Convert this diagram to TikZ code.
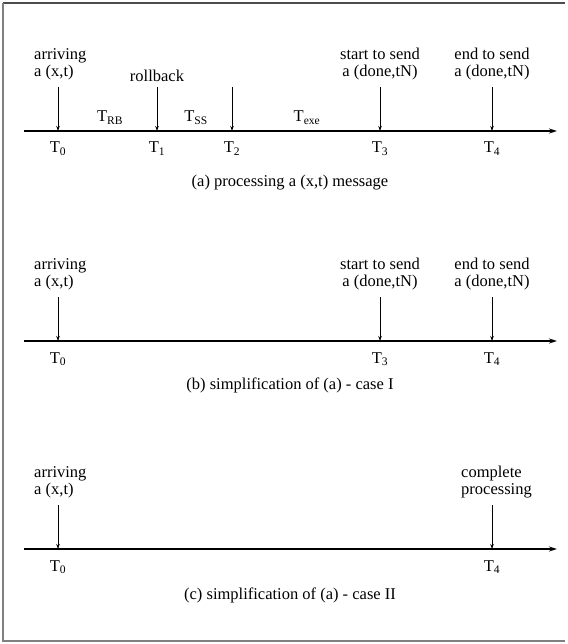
\documentclass[tikz,border=0pt]{standalone}
\usepackage{fontspec}
\setmainfont{Liberation Serif}
\usetikzlibrary{arrows.meta}

\newcommand{\tm}[1]{T\textsubscript{#1}}

\begin{document}
\begin{tikzpicture}[
    x=1pt, y=-1pt,
    font=\fontsize{16.5}{17}\selectfont,
    axis/.style={line width=1.8pt, -{Stealth[length=8pt,width=5pt]}},
    event/.style={line width=0.8pt, -{Stealth[length=5pt,width=3.5pt]}},
    evlabel/.style={align=center, anchor=south, inner sep=0pt},
    evleft/.style={align=left, anchor=south west, inner sep=0pt},
    tlabel/.style={anchor=base, inner sep=0pt},
    caption/.style={anchor=base, inner sep=0pt}
]
\useasboundingbox (0,0) rectangle (567,644);

% frame
\draw[gray!60!black, line width=1.2pt] (565,3) -- (3,3);
\draw[gray, line width=2pt] (3,3) -- (3,641) -- (565,641);

% (a) processing a (x,t) message
\coordinate (a-start) at (24,131);
\coordinate (a-end)   at (557,131);
\draw[axis] (a-start) -- (a-end);

\coordinate (a-t0) at (58,131);   \coordinate (a-top0) at (58,87);
\coordinate (a-t1) at (157,131);  \coordinate (a-top1) at (157,87);
\coordinate (a-t2) at (232,131);  \coordinate (a-top2) at (232,87);
\coordinate (a-t3) at (380,131);  \coordinate (a-top3) at (380,87);
\coordinate (a-t4) at (492,131);  \coordinate (a-top4) at (492,87);

\node[evleft]  (a-arrive) at (34,80)  {arriving\\a (x,t)};
\node[tlabel]  (a-roll)   at (157,82) {rollback};
\node[evlabel] (a-start3) at (380,80) {start to send\\a (done,tN)};
\node[evlabel] (a-end4)   at (492,80) {end to send\\a (done,tN)};

\draw[event] (a-top0) -- (a-t0);
\draw[event] (a-top1) -- (a-t1);
\draw[event] (a-top2) -- (a-t2);
\draw[event] (a-top3) -- (a-t3);
\draw[event] (a-top4) -- (a-t4);

\node[tlabel] (a-rb)  at (110,122) {\tm{RB}};
\node[tlabel] (a-ss)  at (196,122) {\tm{SS}};
\node[tlabel] (a-exe) at (307,122) {\tm{exe}};

\node[tlabel] (a-T0) at (58,153)  {\tm{0}};
\node[tlabel] (a-T1) at (157,153) {\tm{1}};
\node[tlabel] (a-T2) at (232,153) {\tm{2}};
\node[tlabel] (a-T3) at (380,153) {\tm{3}};
\node[tlabel] (a-T4) at (492,153) {\tm{4}};

\node[caption] (a-cap) at (290,187) {(a) processing a (x,t) message};

% (b) simplification of (a) - case I
\coordinate (b-start) at (24,341);
\coordinate (b-end)   at (557,341);
\draw[axis] (b-start) -- (b-end);

\coordinate (b-t0) at (58,341);   \coordinate (b-top0) at (58,297);
\coordinate (b-t3) at (380,341);  \coordinate (b-top3) at (380,297);
\coordinate (b-t4) at (492,341);  \coordinate (b-top4) at (492,297);

\node[evleft]  (b-arrive) at (34,290)  {arriving\\a (x,t)};
\node[evlabel] (b-start3) at (380,290) {start to send\\a (done,tN)};
\node[evlabel] (b-end4)   at (492,290) {end to send\\a (done,tN)};

\draw[event] (b-top0) -- (b-t0);
\draw[event] (b-top3) -- (b-t3);
\draw[event] (b-top4) -- (b-t4);

\node[tlabel] (b-T0) at (58,363)  {\tm{0}};
\node[tlabel] (b-T3) at (380,363) {\tm{3}};
\node[tlabel] (b-T4) at (492,363) {\tm{4}};

\node[caption] (b-cap) at (290,389) {(b) simplification of (a) - case I};

% (c) simplification of (a) - case II
\coordinate (c-start) at (24,549);
\coordinate (c-end)   at (557,549);
\draw[axis] (c-start) -- (c-end);

\coordinate (c-t0) at (58,549);   \coordinate (c-top0) at (58,505);
\coordinate (c-t4) at (492,549);  \coordinate (c-top4) at (492,505);

\node[evleft] (c-arrive) at (34,498)  {arriving\\a (x,t)};
\node[evleft] (c-done)   at (461,498) {complete\\processing};

\draw[event] (c-top0) -- (c-t0);
\draw[event] (c-top4) -- (c-t4);

\node[tlabel] (c-T0) at (58,571)  {\tm{0}};
\node[tlabel] (c-T4) at (492,571) {\tm{4}};

\node[caption] (c-cap) at (290,599) {(c) simplification of (a) - case II};

\end{tikzpicture}
\end{document}
